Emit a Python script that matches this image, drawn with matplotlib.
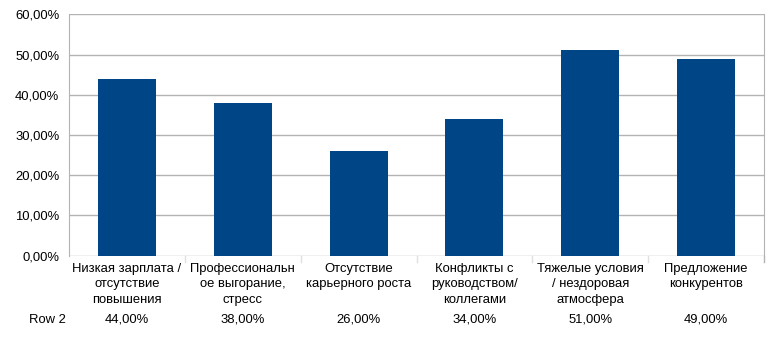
import matplotlib.pyplot as plt
from matplotlib.ticker import FuncFormatter

plt.rcParams['font.family'] = ['Liberation Sans', 'DejaVu Sans']

categories = [
    'Низкая зарплата /\nотсутствие\nповышения',
    'Профессиональн\nое выгорание,\nстресс',
    'Отсутствие\nкарьерного роста',
    'Конфликты с\nруководством/\nколлегами',
    'Тяжелые условия\n/ нездоровая\nатмосфера',
    'Предложение\nконкурентов',
]
values = [44, 38, 26, 34, 51, 49]
series_name = 'Row 2'
yticks = [0, 10, 20, 30, 40, 50, 60]

BAR_COLOR = '#004586'
GRID_COLOR = '#b3b3b3'
FS = 9.4


def pct(v):
    return f'{v:.2f}'.replace('.', ',') + '%'


fig = plt.figure(figsize=(7.8, 3.39), dpi=100)
ax = fig.add_axes([69 / 780, 1 - 255.5 / 339, 695 / 780, 241.2 / 339])

x = range(len(values))
ax.bar(x, values, width=0.5, color=BAR_COLOR, zorder=3)

ax.set_xlim(-0.5, len(values) - 0.5)
ax.set_ylim(0, 60)
ax.set_yticks(yticks)
ax.yaxis.set_major_formatter(FuncFormatter(lambda v, _: pct(v)))
ax.tick_params(axis='y', length=0, pad=7, labelsize=FS, labelcolor='#000000')
ax.set_xticks([])
ax.grid(axis='y', color=GRID_COLOR, linewidth=1, zorder=0)

for side in ['top', 'bottom']:
    ax.spines[side].set_visible(False)
ax.spines['left'].set_color(GRID_COLOR)
ax.spines['right'].set_color(GRID_COLOR)

# faint separators between categories below the axis
trans = ax.get_xaxis_transform()
for b in range(1, len(values)):
    ax.plot([b - 0.5, b - 0.5], [0, -0.028], transform=trans, color='#e0e0e0',
            linewidth=1, clip_on=False)
ax.plot([len(values) - 0.5] * 2, [0, -0.028], transform=trans, color=GRID_COLOR,
        linewidth=1, clip_on=False)

# category labels and data table row
for i, (cat, v) in enumerate(zip(categories, values)):
    ax.text(i, -0.03, cat, transform=trans, ha='center', va='top',
            fontsize=FS, linespacing=1.38)
    ax.text(i, -0.2674, pct(v), transform=trans, ha='center', va='center',
            fontsize=FS)

fig.text(47 / 780, 1 - 320 / 339, series_name, ha='center', va='center', fontsize=FS)

fig.savefig('out.png', dpi=100)
